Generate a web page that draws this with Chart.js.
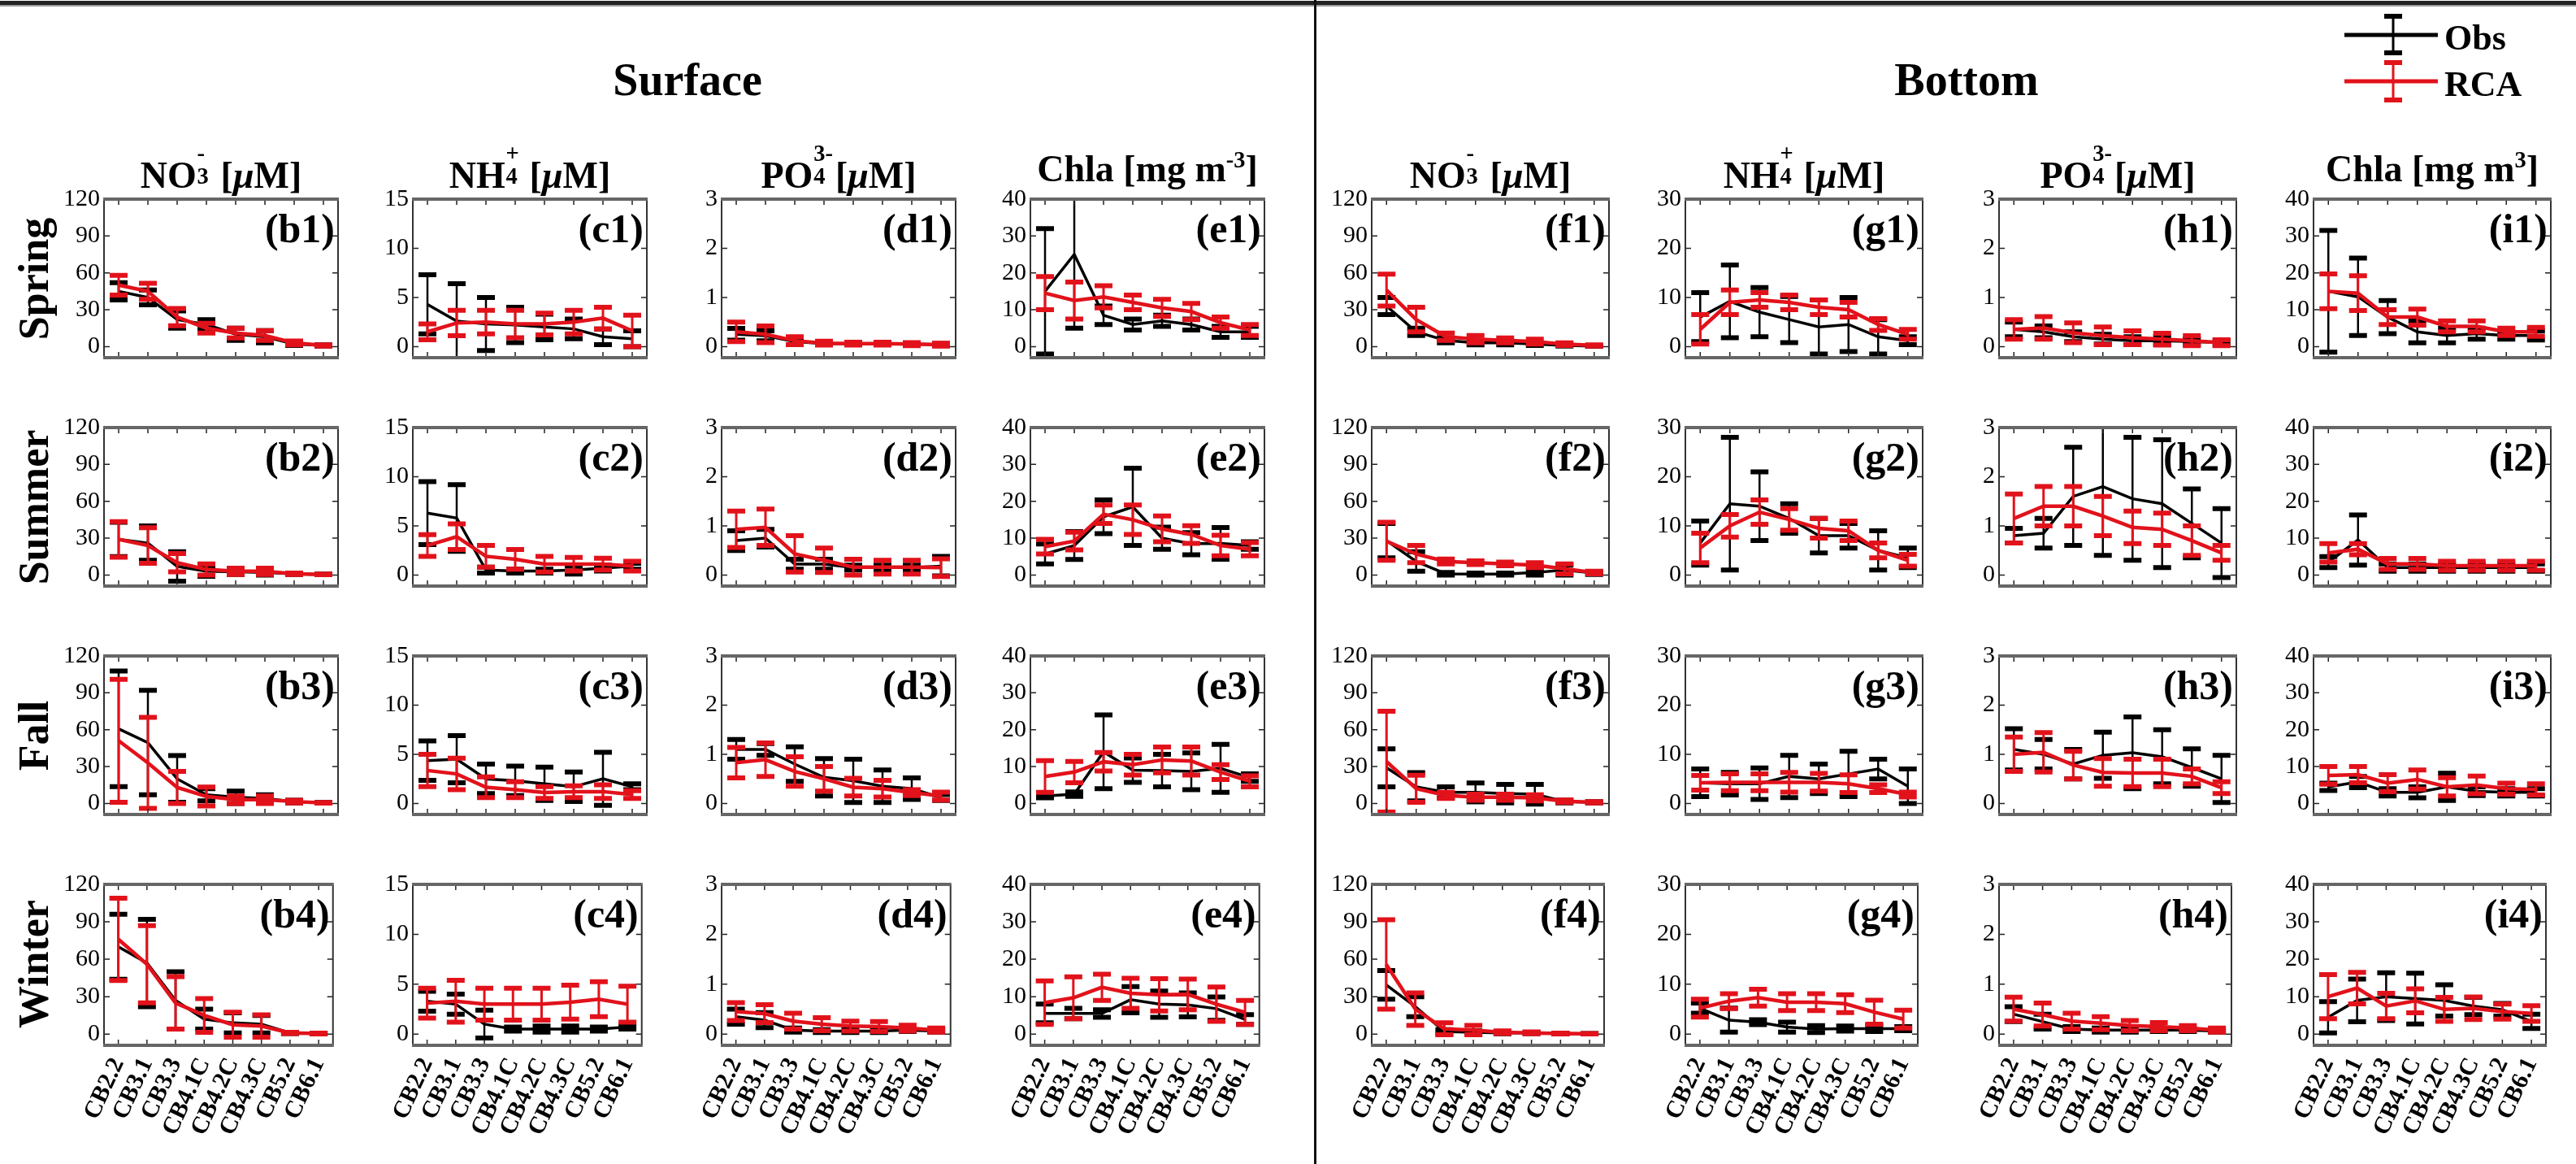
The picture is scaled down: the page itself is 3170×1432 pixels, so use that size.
<!DOCTYPE html>
<html>
<head>
<meta charset="utf-8">
<script src="https://cdn.jsdelivr.net/npm/chart.js@4.4.1/dist/chart.umd.min.js"></script>
<style>
  body { margin: 0; background: #fff; }
  #fig { position: relative; width: 3170px; height: 1432px; overflow: hidden; font-family: "Liberation Serif", "Times New Roman", serif; }
  #fig canvas { position: absolute; }
  .t { position: absolute; white-space: nowrap; font-weight: bold; line-height: 1; color: #000; }
  .c { transform: translateX(-50%); }
  .row { transform: translate(-50%, -50%) rotate(-90deg); font-size: 52px; }
  .ss { display: inline-block; position: relative; height: 1em; vertical-align: baseline; }
  .ss span { position: absolute; left: 0.03em; font-size: 0.62em; line-height: 1; }
  .ss .up { top: -0.35em; }
  .ss .dn { top: 0.62em; }
  sup { font-size: 0.62em; line-height: 0; vertical-align: 0.6em; }
</style>
</head>
<body>
<div id="fig">
  <canvas id="bg" width="3170" height="1432" style="left:0;top:0"></canvas>
</div>
<script>
const stations = ["CB2.2", "CB3.1", "CB3.3", "CB4.1C", "CB4.2C", "CB4.3C", "CB5.2", "CB6.1"];
const seasons = ["Spring", "Summer", "Fall", "Winter"];

// y ticks for each variable
const ticksNO3 = [0, 30, 60, 90, 120];
const ticksNH4Surf = [0, 5, 10, 15];
const ticksNH4Bot = [0, 10, 20, 30];
const ticksPO4 = [0, 1, 2, 3];
const ticksChla = [0, 10, 20, 30, 40];

// Spring
const b1Obs = [45, 40, 22, 18, 10, 8, 2, 1],            b1ObsSd = [7, 6, 7, 4, 5, 5, 1, 0.5];
const b1Rca = [50, 45, 24, 15, 11, 9, 3, 1],            b1RcaSd = [8, 6.5, 7, 4, 4, 4, 1.5, 0.5];
const c1Obs = [4.3, 2.6, 2.3, 2.2, 2.0, 1.8, 1.0, 0.8], c1ObsSd = [3.0, 3.8, 2.7, 1.8, 1.3, 1.0, 0.8, 0.8];
const c1Rca = [1.5, 2.4, 2.5, 2.3, 2.3, 2.5, 2.9, 1.6], c1RcaSd = [0.8, 1.3, 1.2, 1.4, 1.1, 1.2, 1.1, 1.6];
const d1Obs = [0.25, 0.22, 0.1, 0.06, 0.06, 0.06, 0.05, 0.04], d1ObsSd = [0.12, 0.1, 0.06, 0.02, 0.02, 0.02, 0.02, 0.02];
const d1Rca = [0.3, 0.25, 0.12, 0.07, 0.06, 0.06, 0.05, 0.04],  d1RcaSd = [0.2, 0.17, 0.08, 0.04, 0.03, 0.03, 0.03, 0.03];
const e1Obs = [15, 25, 8.5, 6, 7, 6, 4, 4],             e1ObsSd = [17, 20, 2.5, 1.5, 1.5, 1.5, 1.5, 1.5];
const e1Rca = [14.5, 12.5, 13.5, 12, 10.5, 9.5, 6.5, 4.5], e1RcaSd = [4.5, 5, 3, 2, 2.3, 2.2, 1.5, 1.5];
const f1Obs = [33, 12, 5, 3, 3, 2, 1, 0.5],             f1ObsSd = [7, 3, 2, 1.5, 1.5, 1, 0.5, 0.3];
const f1Rca = [46, 22, 8, 6, 5, 4, 2, 1],               f1RcaSd = [13, 10, 3, 3, 2, 2, 1, 0.5];
const g1Obs = [6, 9.2, 7, 5.5, 4, 4.5, 2, 1.2],         g1ObsSd = [5, 7.4, 5, 4.7, 5.5, 5.5, 3.5, 0.8];
const g1Rca = [3.5, 9, 9.5, 9, 8, 7.5, 4.5, 2.5],       g1RcaSd = [3, 2.5, 1.5, 1.5, 1.5, 1.5, 1.2, 1];
const h1Obs = [0.35, 0.3, 0.2, 0.15, 0.12, 0.12, 0.1, 0.08], h1ObsSd = [0.15, 0.12, 0.1, 0.1, 0.08, 0.08, 0.06, 0.04];
const h1Rca = [0.35, 0.38, 0.28, 0.22, 0.18, 0.15, 0.12, 0.08], h1RcaSd = [0.2, 0.23, 0.2, 0.18, 0.14, 0.12, 0.1, 0.06];
const i1Obs = [15, 13.5, 8, 4, 3, 3.5, 3, 3],           i1ObsSd = [16.5, 10.5, 4.5, 3, 2, 1.5, 1, 1.2];
const i1Rca = [15, 14.5, 8, 8, 5.5, 5.5, 4, 4],         i1RcaSd = [4.7, 4.7, 2, 2.2, 1.5, 1.5, 1, 1.2];

// Summer
const b2Obs = [29, 26, 7, 3, 2.5, 2, 1, 0.5],           b2ObsSd = [14, 14, 12, 4, 2, 2, 0.5, 0.3];
const b2Rca = [29, 24, 10, 4.5, 3, 3, 1, 0.5],          b2RcaSd = [14.5, 14.5, 7.5, 4.5, 2.5, 2.5, 0.6, 0.3];
const c2Obs = [6.3, 5.8, 0.5, 0.4, 0.4, 0.5, 0.7, 0.9], c2ObsSd = [3.2, 3.4, 0.3, 0.2, 0.2, 0.4, 0.3, 0.3];
const c2Rca = [3.0, 3.9, 1.9, 1.6, 1.1, 1.1, 1.1, 0.9], c2RcaSd = [1.1, 1.3, 1.1, 1.0, 0.8, 0.7, 0.6, 0.5];
const d2Obs = [0.7, 0.75, 0.22, 0.22, 0.15, 0.15, 0.15, 0.18], d2ObsSd = [0.2, 0.18, 0.1, 0.1, 0.05, 0.05, 0.05, 0.2];
const d2Rca = [0.93, 0.97, 0.43, 0.3, 0.16, 0.16, 0.16, 0.15], d2RcaSd = [0.37, 0.37, 0.37, 0.25, 0.16, 0.14, 0.14, 0.18];
const e2Obs = [5.7, 8, 15.8, 18.5, 10, 8.5, 8.6, 8],    e2ObsSd = [2.7, 3.8, 4.6, 10.5, 3, 3, 4.3, 1];
const e2Rca = [7.7, 9.2, 16.5, 15, 12.5, 11, 8, 7],     e2RcaSd = [2, 2.4, 2.5, 4, 3.5, 2.4, 2.8, 1.8];
const f2Obs = [28, 11, 1, 0.8, 0.8, 2, 4, 1.5],         f2ObsSd = [14, 8, 1, 0.8, 0.8, 2, 4, 1];
const f2Rca = [27.5, 17, 11, 10, 9, 8, 5, 2],           f2RcaSd = [15.5, 7, 2, 1.5, 1.5, 2, 4, 1];
const g2Obs = [6.5, 14.5, 14, 11.5, 8, 8, 5, 3.5],      g2ObsSd = [4.5, 13.5, 7, 3, 3.5, 2.5, 4, 2];
const g2Rca = [5.5, 10, 12.8, 11.3, 9.5, 9, 5, 3],      g2RcaSd = [3, 2.3, 2.5, 2.2, 2, 2, 1.5, 1.2];
const h2Obs = [0.8, 0.85, 1.6, 1.8, 1.55, 1.45, 1.05, 0.65], h2ObsSd = [0.15, 0.3, 1.0, 1.4, 1.25, 1.3, 0.7, 0.7];
const h2Rca = [1.15, 1.4, 1.4, 1.2, 0.97, 0.93, 0.7, 0.45], h2RcaSd = [0.5, 0.4, 0.4, 0.4, 0.33, 0.33, 0.3, 0.15];
const i2Obs = [3.5, 9.5, 2, 2, 2, 2, 2, 2],             i2ObsSd = [1.5, 6.8, 1, 1, 1, 1, 1, 1];
const i2Rca = [6, 7, 3, 3, 2.5, 2.5, 2.5, 2.5],         i2RcaSd = [2.5, 1.5, 1.5, 1.5, 1.2, 1.2, 1.2, 1.2];

// Fall
const b3Obs = [60.7, 49.5, 20, 7, 5, 4, 1.5, 0.5],      b3ObsSd = [47, 42.5, 19, 5, 5, 3, 1, 0.3];
const b3Rca = [51, 33, 13, 5.7, 3, 3, 1.5, 0.5],        b3RcaSd = [50, 37, 13, 7.7, 3, 3, 1, 0.3];
const c3Obs = [4.35, 4.5, 2.5, 2.3, 2.0, 1.7, 2.5, 1.7], c3ObsSd = [2.0, 2.4, 1.5, 1.5, 1.7, 1.5, 2.7, 0.3];
const c3Rca = [3.35, 3.0, 1.65, 1.4, 1.1, 1.2, 1.2, 0.9], c3RcaSd = [1.65, 1.6, 1.05, 0.8, 0.6, 0.6, 0.7, 0.4];
const d3Obs = [1.1, 1.1, 0.8, 0.53, 0.46, 0.35, 0.3, 0.12], d3ObsSd = [0.2, 0.12, 0.35, 0.38, 0.44, 0.33, 0.22, 0.06];
const d3Rca = [0.83, 0.89, 0.65, 0.5, 0.33, 0.3, 0.22, 0.15], d3RcaSd = [0.31, 0.34, 0.3, 0.25, 0.18, 0.17, 0.06, 0.08];
const e3Obs = [2, 2.5, 14, 9, 8.9, 8.7, 9.5, 7],        e3ObsSd = [0.5, 0.6, 10, 3.3, 4.4, 5, 6.5, 1];
const e3Rca = [7.3, 8.5, 11.3, 10.5, 11.8, 11.5, 8.5, 6], e3RcaSd = [4.3, 2.9, 2.5, 2.8, 3.5, 3.8, 2, 1.5];
const f3Obs = [29, 13.5, 9, 9, 8, 7.5, 1.5, 1],         f3ObsSd = [15.5, 11.5, 4.5, 7.7, 7.5, 8, 1, 0.5];
const f3Rca = [34, 12, 6.5, 5, 5, 4.5, 1.8, 1],         f3RcaSd = [41, 11, 2.5, 2.5, 2.5, 2.5, 1, 0.5];
const g3Obs = [4.2, 4, 4, 5.5, 5, 6, 7, 3.5],           g3ObsSd = [2.8, 2.3, 3.2, 4.3, 3, 4.6, 2, 3.5];
const g3Rca = [4.2, 4.3, 4.3, 4.3, 4.3, 4, 3, 1.8],     g3RcaSd = [1.5, 1.7, 1.7, 2, 1.8, 1.8, 0.8, 0.5];
const h3Obs = [1.1, 1.0, 0.8, 0.98, 1.03, 0.95, 0.73, 0.5], h3ObsSd = [0.42, 0.3, 0.3, 0.47, 0.73, 0.55, 0.38, 0.48];
const h3Rca = [1.0, 1.04, 0.78, 0.63, 0.62, 0.62, 0.55, 0.32], h3RcaSd = [0.35, 0.4, 0.28, 0.28, 0.28, 0.28, 0.15, 0.12];
const i3Obs = [4.5, 5.8, 3, 3, 4.5, 3.3, 3, 3],         i3ObsSd = [1, 1.5, 1, 1.5, 3.7, 1.2, 1, 1];
const i3Rca = [7.6, 7.8, 5.5, 6.5, 4.5, 5, 4, 3.8],     i3RcaSd = [2.4, 2.2, 2.3, 2.6, 2.5, 2.4, 1.5, 1.5];

// Winter
const b4Obs = [70, 57, 27, 12, 9, 8, 1, 0.5],           b4ObsSd = [26, 35, 23, 8, 8, 7, 0.5, 0.3];
const b4Rca = [76, 56, 25, 15, 7.5, 6.5, 1, 0.5],       b4RcaSd = [33, 31, 21, 13.5, 10, 9, 0.5, 0.3];
const c4Obs = [3.3, 3.0, 1.0, 0.5, 0.5, 0.5, 0.5, 0.7], c4ObsSd = [1.0, 1.0, 1.4, 0.2, 0.3, 0.3, 0.2, 0.2];
const c4Rca = [3.1, 3.3, 3.0, 3.0, 3.0, 3.2, 3.5, 3.0], c4RcaSd = [1.5, 2.1, 1.6, 1.6, 1.6, 1.7, 1.75, 1.8];
const d4Obs = [0.35, 0.28, 0.08, 0.06, 0.06, 0.06, 0.08, 0.06], d4ObsSd = [0.15, 0.15, 0.04, 0.03, 0.03, 0.03, 0.03, 0.02];
const d4Rca = [0.45, 0.41, 0.26, 0.2, 0.16, 0.15, 0.12, 0.08],  d4RcaSd = [0.18, 0.18, 0.16, 0.13, 0.1, 0.1, 0.06, 0.04];
const e4Obs = [5.5, 5.5, 5.5, 9.2, 8, 7.8, 6.8, 3.9],   e4ObsSd = [2.5, 1.4, 1, 3.5, 3.5, 3.2, 3.1, 1.3];
const e4Rca = [8.4, 9.7, 12.5, 10.9, 10.5, 10.6, 8, 5.8], e4RcaSd = [5.8, 5.6, 3.5, 4, 4.3, 4.1, 4.6, 3.2];
const f4Obs = [39.5, 22, 2, 1.5, 1, 1, 0.5, 0.3],       f4ObsSd = [11.5, 8, 1.5, 1, 0.7, 0.5, 0.3, 0.2];
const f4Rca = [55.8, 20, 4.2, 3.2, 1.5, 1, 0.5, 0.3],   f4RcaSd = [35.8, 13, 4.8, 3.8, 1, 0.7, 0.3, 0.2];
const g4Obs = [5.2, 2.8, 2.4, 1.4, 1.0, 1.1, 1.1, 1.1], g4ObsSd = [1.0, 2.4, 0.5, 1.0, 0.7, 0.5, 0.6, 0.4];
const g4Rca = [5.2, 6.6, 7.3, 6.4, 6.4, 6.1, 4.4, 3.0], g4RcaSd = [1.8, 1.5, 1.7, 1.7, 1.7, 1.8, 2.4, 1.8];
const h4Obs = [0.4, 0.25, 0.1, 0.08, 0.08, 0.08, 0.08, 0.06], h4ObsSd = [0.15, 0.15, 0.05, 0.04, 0.04, 0.03, 0.03, 0.02];
const h4Rca = [0.5, 0.39, 0.26, 0.22, 0.17, 0.15, 0.12, 0.08], h4RcaSd = [0.24, 0.23, 0.16, 0.13, 0.1, 0.08, 0.05, 0.04];
const i4Obs = [4.5, 9, 10, 9.5, 9, 7.5, 6.5, 3.4],      i4ObsSd = [4.2, 5.7, 6.4, 6.8, 4.2, 2.3, 1.7, 1.9];
const i4Rca = [10, 12.3, 7.5, 8.9, 6.6, 6.9, 6, 5.5],   i4RcaSd = [5.9, 4.2, 3.4, 3.2, 3.2, 3, 2, 2.1];

const panelSeries = {
  b1: [b1Obs, b1ObsSd, b1Rca, b1RcaSd], c1: [c1Obs, c1ObsSd, c1Rca, c1RcaSd], d1: [d1Obs, d1ObsSd, d1Rca, d1RcaSd], e1: [e1Obs, e1ObsSd, e1Rca, e1RcaSd],
  f1: [f1Obs, f1ObsSd, f1Rca, f1RcaSd], g1: [g1Obs, g1ObsSd, g1Rca, g1RcaSd], h1: [h1Obs, h1ObsSd, h1Rca, h1RcaSd], i1: [i1Obs, i1ObsSd, i1Rca, i1RcaSd],
  b2: [b2Obs, b2ObsSd, b2Rca, b2RcaSd], c2: [c2Obs, c2ObsSd, c2Rca, c2RcaSd], d2: [d2Obs, d2ObsSd, d2Rca, d2RcaSd], e2: [e2Obs, e2ObsSd, e2Rca, e2RcaSd],
  f2: [f2Obs, f2ObsSd, f2Rca, f2RcaSd], g2: [g2Obs, g2ObsSd, g2Rca, g2RcaSd], h2: [h2Obs, h2ObsSd, h2Rca, h2RcaSd], i2: [i2Obs, i2ObsSd, i2Rca, i2RcaSd],
  b3: [b3Obs, b3ObsSd, b3Rca, b3RcaSd], c3: [c3Obs, c3ObsSd, c3Rca, c3RcaSd], d3: [d3Obs, d3ObsSd, d3Rca, d3RcaSd], e3: [e3Obs, e3ObsSd, e3Rca, e3RcaSd],
  f3: [f3Obs, f3ObsSd, f3Rca, f3RcaSd], g3: [g3Obs, g3ObsSd, g3Rca, g3RcaSd], h3: [h3Obs, h3ObsSd, h3Rca, h3RcaSd], i3: [i3Obs, i3ObsSd, i3Rca, i3RcaSd],
  b4: [b4Obs, b4ObsSd, b4Rca, b4RcaSd], c4: [c4Obs, c4ObsSd, c4Rca, c4RcaSd], d4: [d4Obs, d4ObsSd, d4Rca, d4RcaSd], e4: [e4Obs, e4ObsSd, e4Rca, e4RcaSd],
  f4: [f4Obs, f4ObsSd, f4Rca, f4RcaSd], g4: [g4Obs, g4ObsSd, g4Rca, g4RcaSd], h4: [h4Obs, h4ObsSd, h4Rca, h4RcaSd], i4: [i4Obs, i4ObsSd, i4Rca, i4RcaSd]
};

const colLetters = ["b", "c", "d", "e", "f", "g", "h", "i"];
const colTicks = [ticksNO3, ticksNH4Surf, ticksPO4, ticksChla, ticksNO3, ticksNH4Bot, ticksPO4, ticksChla];
const colTitles = [
  'NO<span class="ss" style="width:0.4em"><span class="up">-</span><span class="dn">3</span></span> [<i>μ</i>M]',
  'NH<span class="ss" style="width:0.4em"><span class="up">+</span><span class="dn">4</span></span> [<i>μ</i>M]',
  'PO<span class="ss" style="width:0.6em"><span class="up">3-</span><span class="dn">4</span></span>[<i>μ</i>M]',
  'Chla [mg m<sup>-3</sup>]',
  'NO<span class="ss" style="width:0.4em"><span class="up">-</span><span class="dn">3</span></span> [<i>μ</i>M]',
  'NH<span class="ss" style="width:0.4em"><span class="up">+</span><span class="dn">4</span></span> [<i>μ</i>M]',
  'PO<span class="ss" style="width:0.6em"><span class="up">3-</span><span class="dn">4</span></span>[<i>μ</i>M]',
  'Chla [mg m<sup>3</sup>]'
];

const plotLeft = [128, 508, 888, 1268, 1688, 2074, 2460, 2847];
const plotWidth = [288, 288, 288, 288, 292, 292, 292, 292];
const plotTop = [242, 523, 804, 1085];
const plotHeight = 201;
const axisW = 62, pad = 20, xLabH = 140;
const red = "#e2121b";
const serif = "Liberation Serif";

const fig = document.getElementById("fig");

// error bars drawn right after each line
const errorBars = {
  id: "errorBars",
  afterDatasetDraw(chart, args) {
    const ds = chart.data.datasets[args.index];
    if (!ds.sd) return;
    const ctx = chart.ctx, a = chart.chartArea, y = chart.scales.y;
    ctx.save();
    ctx.beginPath();
    ctx.rect(a.left, a.top, a.right - a.left, a.bottom - a.top);
    ctx.clip();
    ctx.strokeStyle = ds.borderColor;
    args.meta.data.forEach((pt, i) => {
      const hi = y.getPixelForValue(ds.data[i] + ds.sd[i]);
      const lo = y.getPixelForValue(ds.data[i] - ds.sd[i]);
      ctx.lineWidth = ds.barW;
      ctx.beginPath();
      ctx.moveTo(pt.x, hi); ctx.lineTo(pt.x, lo);
      ctx.stroke();
      ctx.lineWidth = ds.capW;
      ctx.beginPath();
      ctx.moveTo(pt.x - 11, hi); ctx.lineTo(pt.x + 11, hi);
      ctx.moveTo(pt.x - 11, lo); ctx.lineTo(pt.x + 11, lo);
      ctx.stroke();
    });
    ctx.restore();
  }
};

// box, inward ticks and panel tag
const frame = {
  id: "frame",
  afterDraw(chart) {
    const ctx = chart.ctx, a = chart.chartArea, x = chart.scales.x, y = chart.scales.y;
    const yt = chart.canvas.yTicks;
    ctx.save();
    ctx.strokeStyle = "#222";
    ctx.lineWidth = 1.5;
    ctx.beginPath();
    stations.forEach((s, i) => {
      const px = x.getPixelForValue(i);
      ctx.moveTo(px, a.top); ctx.lineTo(px, a.top + 7);
      ctx.moveTo(px, a.bottom); ctx.lineTo(px, a.bottom - 7);
    });
    yt.forEach(v => {
      const py = y.getPixelForValue(v);
      ctx.moveTo(a.left, py); ctx.lineTo(a.left + 7, py);
      ctx.moveTo(a.right, py); ctx.lineTo(a.right - 7, py);
    });
    ctx.stroke();
    ctx.strokeStyle = "#333";
    ctx.lineWidth = 2;
    ctx.beginPath();
    ctx.moveTo(a.left, a.top); ctx.lineTo(a.left, a.bottom);
    ctx.moveTo(a.right, a.top); ctx.lineTo(a.right, a.bottom);
    ctx.stroke();
    ctx.strokeStyle = "#666";
    ctx.lineWidth = 4;
    ctx.beginPath();
    ctx.moveTo(a.left - 1, a.top); ctx.lineTo(a.right + 1, a.top);
    ctx.moveTo(a.left - 1, a.bottom); ctx.lineTo(a.right + 1, a.bottom);
    ctx.stroke();
    ctx.fillStyle = "#000";
    ctx.font = 'bold 50px "Liberation Serif"';
    ctx.textAlign = "right";
    ctx.textBaseline = "alphabetic";
    ctx.fillText(chart.canvas.tag, a.right - 4, a.top + 53);
    ctx.restore();
  }
};

for (let r = 0; r < 4; r++) {
  for (let c = 0; c < 8; c++) {
    const id = colLetters[c] + (r + 1);
    const [obs, obsSd, rca, rcaSd] = panelSeries[id];
    const yt = colTicks[c];
    const ymax = yt[yt.length - 1];
    const last = r === 3;

    const canvas = document.createElement("canvas");
    canvas.width = plotWidth[c] + axisW + pad;
    canvas.height = pad + plotHeight + (last ? xLabH : pad);
    canvas.style.left = (plotLeft[c] - axisW) + "px";
    canvas.style.top = (plotTop[r] - pad) + "px";
    canvas.yTicks = yt;
    canvas.tag = "(" + id + ")";
    fig.appendChild(canvas);

    new Chart(canvas, {
      type: "line",
      data: {
        labels: stations,
        datasets: [
          { label: "Obs", data: obs, sd: obsSd, borderColor: "#000", borderWidth: 3.5, pointRadius: 0, order: 1, barW: 2.5, capW: 6 },
          { label: "RCA", data: rca, sd: rcaSd, borderColor: red, borderWidth: 4.5, pointRadius: 0, order: 0, barW: 3, capW: 6 }
        ]
      },
      options: {
        responsive: false,
        animation: false,
        devicePixelRatio: 1,
        layout: { padding: { top: pad, right: pad, bottom: last ? 0 : pad, left: 0 } },
        plugins: { legend: { display: false }, tooltip: { enabled: false } },
        scales: {
          x: {
            type: "category",
            offset: true,
            display: last,
            grid: { display: false, drawTicks: false },
            border: { display: false },
            ticks: { autoSkip: false, minRotation: 65, maxRotation: 65, padding: 10, color: "#000", font: { family: serif, size: 30, weight: "bold" } },
            afterFit: s => { s.height = last ? xLabH : 0; }
          },
          y: {
            min: -0.075 * ymax,
            max: ymax,
            grid: { display: false, drawTicks: false },
            border: { display: false },
            ticks: { padding: 5, color: "#000", font: { family: serif, size: 30 } },
            afterBuildTicks: s => { s.ticks = yt.map(v => ({ value: v })); },
            afterFit: s => { s.width = axisW; }
          }
        }
      },
      plugins: [errorBars, frame]
    });
  }
}

// text
function addText(html, cls, style) {
  const d = document.createElement("div");
  d.className = "t " + cls;
  d.innerHTML = html;
  Object.assign(d.style, style);
  fig.appendChild(d);
}
addText("Surface", "c", { left: "846px", top: "70px", fontSize: "56px" });
addText("Bottom", "c", { left: "2420px", top: "70px", fontSize: "56px" });
colTitles.forEach((t, c) => {
  addText(t, "c", { left: (plotLeft[c] + plotWidth[c] / 2) + "px", top: "185px", fontSize: "46px" });
});
seasons.forEach((s, r) => {
  addText(s, "row", { left: "42px", top: (plotTop[r] + plotHeight / 2) + "px" });
});
addText("Obs", "", { left: "3008px", top: "25px", fontSize: "44px" });
addText("RCA", "", { left: "3008px", top: "82px", fontSize: "44px" });

// frame lines and legend symbols
const bg = document.getElementById("bg").getContext("2d");
bg.fillStyle = "#222";
bg.fillRect(0, 1, 3170, 5);
bg.fillStyle = "#999";
bg.fillRect(0, 6, 3170, 2);
bg.fillStyle = "#111";
bg.fillRect(1617, 0, 3, 1432);
[["#000", 43, 20, 65], [red, 100, 77, 123]].forEach(([col, ly, t, b]) => {
  bg.strokeStyle = col;
  bg.lineWidth = 5;
  bg.beginPath(); bg.moveTo(2885, ly); bg.lineTo(3000, ly); bg.stroke();
  bg.lineWidth = 3;
  bg.beginPath(); bg.moveTo(2945, t); bg.lineTo(2945, b); bg.stroke();
  bg.lineWidth = 6;
  bg.beginPath();
  bg.moveTo(2934, t); bg.lineTo(2956, t);
  bg.moveTo(2934, b); bg.lineTo(2956, b);
  bg.stroke();
});
</script>
</body>
</html>
